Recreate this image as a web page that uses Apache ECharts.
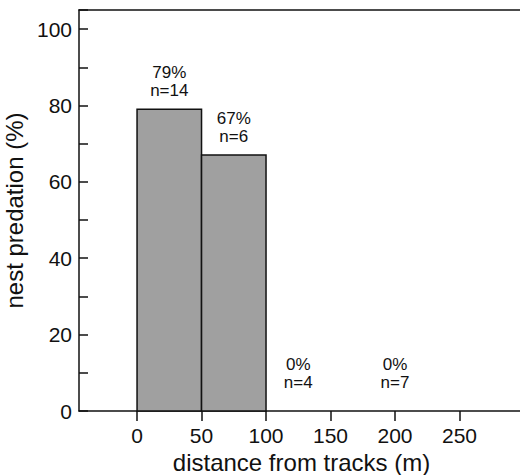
<!DOCTYPE html>
<html>
<head>
<meta charset="utf-8">
<script src="https://cdn.jsdelivr.net/npm/echarts@6/dist/echarts.min.js"></script>
<style>
  html, body { margin: 0; padding: 0; background: #fff; }
  #chart { width: 520px; height: 475px; }
</style>
</head>
<body>
<div id="chart"></div>
<script>
// distance bins (m) and predation per bin
var binStart = [0, 50, 100, 150]
var binEnd = [50, 100, 150, 250]
var predation = [79, 67, 0, 0]
var nests = [14, 6, 4, 7]
var xTicks = [0, 50, 100, 150, 200, 250]

var chartDom = document.getElementById('chart')
var myChart = echarts.init(chartDom, null, { renderer: 'svg' })

var seriesData = binStart.map(function (s, i) {
    return [s, binEnd[i], predation[i], nests[i]]
})

function renderBin(params, api) {
    var x0 = api.value(0)
    var x1 = api.value(1)
    var v = api.value(2)
    var n = api.value(3)
    var p0 = api.coord([x0, 0])
    var p1 = api.coord([x1, v])
    var children = []
    if (v > 0) {
        children.push({
            type: 'rect',
            shape: { x: p0[0], y: p1[1], width: p1[0] - p0[0], height: p0[1] - p1[1] },
            style: { fill: '#a0a0a0', stroke: '#111', lineWidth: 1.5 }
        })
    }
    // empty bins carry their label a bit higher above the axis
    var gap = v > 0 ? 10 : 20
    children.push({
        type: 'text',
        x: (p0[0] + p1[0]) / 2,
        y: p1[1] - gap,
        style: {
            text: v + '%\nn=' + n,
            fontFamily: 'Liberation Sans',
            fontSize: 17,
            lineHeight: 18,
            fill: '#111',
            align: 'center',
            verticalAlign: 'bottom'
        }
    })
    return { type: 'group', children: children }
}

var lineStyle = { color: '#111', width: 1.5 }

var options = {
    animation: false,
    grid: {
        left: 79,
        top: 10,
        right: -4,
        bottom: 64,
        outerBoundsMode: 'none'
    },
    xAxis: [
        {
            type: 'value',
            min: -45,
            max: 300,
            name: 'distance from tracks (m)',
            nameLocation: 'middle',
            nameGap: 37,
            nameTextStyle: { fontFamily: 'Liberation Sans', fontSize: 24, color: '#111' },
            splitLine: { show: false },
            axisLine: { show: true, onZero: false, lineStyle: lineStyle },
            axisTick: { show: true, length: 10, customValues: xTicks, lineStyle: lineStyle },
            axisLabel: { customValues: xTicks, margin: 14, fontFamily: 'Liberation Sans', fontSize: 21, color: '#111' }
        },
        {
            // plain frame line along the top
            type: 'value',
            position: 'top',
            min: -45,
            max: 300,
            splitLine: { show: false },
            axisLine: { show: true, onZero: false, lineStyle: lineStyle },
            axisTick: { show: false },
            axisLabel: { show: false }
        }
    ],
    yAxis: {
        type: 'value',
        min: 0,
        max: 105,
        interval: 20,
        name: 'nest predation (%)',
        nameLocation: 'middle',
        nameGap: 45,
        nameTextStyle: { fontFamily: 'Liberation Sans', fontSize: 24, color: '#111' },
        splitLine: { show: false },
        axisLine: { show: true, onZero: false, lineStyle: lineStyle },
        axisTick: { show: true, inside: true, length: 9, lineStyle: lineStyle },
        minorTick: { show: true, splitNumber: 2, length: 9, lineStyle: lineStyle },
        axisLabel: { showMaxLabel: false, margin: 7, fontFamily: 'Liberation Sans', fontSize: 21, color: '#111' }
    },
    series: [
        {
            type: 'custom',
            renderItem: renderBin,
            encode: { x: [0, 1], y: 2 },
            data: seriesData,
            clip: false
        }
    ]
}
myChart.setOption(options)
</script>
</body>
</html>
